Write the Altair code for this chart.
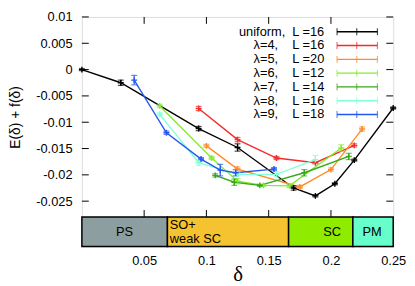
import altair as alt
import pandas as pd

NB = "\u00a0"

# ---------------- data ----------------
series = ["uniform", "λ=4", "λ=5", "λ=6", "λ=7", "λ=8", "λ=9"]
legend_labels = [
    "uniform," + NB * 2 + "L =16",
    "λ=4," + NB * 4 + "L =16",
    "λ=5," + NB * 4 + "L =20",
    "λ=6," + NB * 4 + "L =12",
    "λ=7," + NB * 4 + "L =14",
    "λ=8," + NB * 4 + "L =16",
    "λ=9," + NB * 4 + "L =18",
]
colors = ["#000000", "#f52a2a", "#ff8c26", "#84ec30", "#38a81a", "#84ffd6", "#2458f0"]

delta_uniform = [0.0, 0.03125, 0.09375, 0.125, 0.17, 0.1875, 0.203125, 0.21875, 0.25]
E_uniform = [0.0, -0.0025, -0.0112, -0.0148, -0.0225, -0.0240, -0.0217, -0.0172, -0.0073]
err_uniform = [0.0002, 0.0005, 0.0004, 0.0007, 0.0004, 0.0002, 0.0002, 0.0002, 0.0002]

delta_l4 = [0.09375, 0.125, 0.15625, 0.1875, 0.21875]
E_l4 = [-0.0074, -0.0133, -0.0168, -0.0177, -0.0144]
err_l4 = [0.0004, 0.0004, 0.0003, 0.0002, 0.0003]

delta_l5 = [0.1, 0.125, 0.175, 0.2, 0.225]
E_l5 = [-0.0145, -0.0189, -0.0223, -0.0190, -0.0113]
err_l5 = [0.0003, 0.0004, 0.0003, 0.0003, 0.0004]

delta_l6 = [0.0625, 0.1042, 0.125, 0.1458, 0.1667, 0.2083]
E_l6 = [-0.0069, -0.0168, -0.0212, -0.0220, -0.0221, -0.0149]
err_l6 = [0.0003, 0.0003, 0.0005, 0.0002, 0.0003, 0.0006]

delta_l7 = [0.1071, 0.1224, 0.1429, 0.1786, 0.2143]
E_l7 = [-0.0201, -0.0214, -0.0220, -0.0196, -0.0165]
err_l7 = [0.0003, 0.0006, 0.0002, 0.0006, 0.0006]

delta_l8 = [0.0625, 0.09375, 0.125, 0.15625, 0.1875]
E_l8 = [-0.0085, -0.0177, -0.0199, -0.0199, -0.0171]
err_l8 = [0.0003, 0.0005, 0.0003, 0.0005, 0.0008]

delta_l9 = [0.042, 0.0679, 0.0957, 0.1111, 0.1235, 0.1543]
E_l9 = [-0.0020, -0.0120, -0.0170, -0.0191, -0.0196, -0.0189]
err_l9 = [0.0009, 0.0003, 0.0003, 0.0011, 0.0006, 0.0003]

y_ticks = [0.01, 0.005, 0.0, -0.005, -0.01, -0.015, -0.02, -0.025]
x_ticks = [0.05, 0.1, 0.15, 0.2]
x_labels_lower = [0.05, 0.1, 0.15, 0.2, 0.25]

phase_names = ["PS", "SO+ weak SC", "SC", "PM"]
phase_start = [0.0, 0.0687, 0.166, 0.2176]
phase_end = [0.0687, 0.166, 0.2176, 0.25]
phase_colors = ["#8c9ea0", "#f5c330", "#8fec00", "#66ffcc"]
center_labels = ["PS", "SC", "PM"]
center_label_x = [0.0343, 0.2009, 0.2330]
so_lines = ["SO+", "weak SC"]
so_label_x = 0.0706

# ---------------- tables ----------------
all_delta = [delta_uniform, delta_l4, delta_l5, delta_l6, delta_l7, delta_l8, delta_l9]
all_E = [E_uniform, E_l4, E_l5, E_l6, E_l7, E_l8, E_l9]
all_err = [err_uniform, err_l4, err_l5, err_l6, err_l7, err_l8, err_l9]
rows = []
for s, ds, es, rs in zip(series, all_delta, all_E, all_err):
    for d, e, r in zip(ds, es, rs):
        rows.append({"series": s, "delta": d, "E": e, "lo": e - r, "hi": e + r})
df = pd.DataFrame(rows)

leg_df = pd.DataFrame({"row": list(range(len(series))), "series": series, "label": legend_labels})
yt_df = pd.DataFrame({"t": y_ticks})
xt_df = pd.DataFrame({"t": x_ticks})
ph_df = pd.DataFrame({"phase": phase_names, "start": phase_start, "end": phase_end})
lab_df = pd.DataFrame({"label": center_labels, "lx": center_label_x})
so_df = pd.DataFrame({"label": so_lines, "line": [0, 1], "lx": [so_label_x] * 2})

W, H1, H2 = 316, 203, 30
FONT = "Liberation Sans"

x_scale = alt.Scale(domain=[0, 0.25], nice=False, zero=False)
y_scale = alt.Scale(domain=[-0.028, 0.01], nice=False, zero=False)
color = alt.Color("series:N", scale=alt.Scale(domain=series, range=colors), legend=None)

y_axis = alt.Axis(values=y_ticks, format=".3~f", labelExpr="replace(datum.label, '\u2212', '-')",
                  ticks=False, domain=False, grid=False, labelPadding=10, labelFontSize=13,
                  labelFont=FONT, labelFlush=False, title="E(δ) + f(δ)", titleFont=FONT,
                  titleFontSize=14, titleFontWeight="normal", titleX=-60)

X = alt.X("delta:Q", scale=x_scale, axis=None)

base = alt.Chart(df)
lines = base.mark_line(strokeWidth=1.4).encode(
    x=X, y=alt.Y("E:Q", scale=y_scale, axis=y_axis), color=color, order=alt.Order("delta:Q"))
errs = base.mark_rule(strokeWidth=1.2).encode(
    x=X, y=alt.Y("lo:Q", scale=y_scale, axis=y_axis), y2="hi:Q", color=color)
cap_lo = base.mark_tick(orient="horizontal", size=6, thickness=1.2).encode(
    x=X, y=alt.Y("lo:Q", scale=y_scale, axis=y_axis), color=color)
cap_hi = base.mark_tick(orient="horizontal", size=6, thickness=1.2).encode(
    x=X, y=alt.Y("hi:Q", scale=y_scale, axis=y_axis), color=color)
pts = base.mark_point(shape="M-1,0H1M0,-1V1", size=36, filled=False, strokeWidth=1.4, opacity=1).encode(
    x=X, y=alt.Y("E:Q", scale=y_scale, axis=y_axis), color=color)

TL = 7
left_t = alt.Chart(yt_df).mark_rule(color="black", strokeWidth=1).encode(
    y=alt.Y("t:Q", scale=y_scale, axis=y_axis), x=alt.value(0), x2=alt.value(TL))
right_t = alt.Chart(yt_df).mark_rule(color="black", strokeWidth=1).encode(
    y=alt.Y("t:Q", scale=y_scale, axis=y_axis), x=alt.value(W - TL), x2=alt.value(W))
top_t = alt.Chart(xt_df).mark_rule(color="black", strokeWidth=1).encode(
    x=alt.X("t:Q", scale=x_scale, axis=None), y=alt.value(0), y2=alt.value(TL))
bot_t = alt.Chart(xt_df).mark_rule(color="black", strokeWidth=1).encode(
    x=alt.X("t:Q", scale=x_scale, axis=None), y=alt.value(H1 - TL), y2=alt.value(H1))

inner = alt.layer(left_t, right_t, top_t, bot_t, lines, errs, cap_lo, cap_hi, pts)

LY = alt.Y("row:O", scale=alt.Scale(type="point", range=[15, 99], padding=0), axis=None)
lbase = alt.Chart(leg_df)
leg_text = lbase.mark_text(align="right", baseline="middle", fontSize=13, font=FONT, color="black").encode(
    x=alt.value(246), y=LY, text="label:N")
leg_line = lbase.mark_rule(strokeWidth=1.4).encode(
    x=alt.value(259), x2=alt.value(300), y=LY, color=color)
leg_t1 = lbase.mark_tick(orient="vertical", size=7, thickness=1.2).encode(x=alt.value(259), y=LY, color=color)
leg_t2 = lbase.mark_tick(orient="vertical", size=7, thickness=1.2).encode(x=alt.value(279), y=LY, color=color)
leg_t3 = lbase.mark_tick(orient="vertical", size=7, thickness=1.2).encode(x=alt.value(300), y=LY, color=color)
legend = alt.layer(leg_line, leg_t1, leg_t2, leg_t3, leg_text)

upper = alt.layer(inner, legend).resolve_scale(y="independent").properties(width=W, height=H1)

x_axis_lower = alt.Axis(values=x_labels_lower, format=".2~f", ticks=False, domain=False, grid=False,
                        labelPadding=8, labelFontSize=13, labelFont=FONT, labelFlush=False,
                        title="δ", titleFont="Liberation Serif", titleFontSize=21,
                        titleFontWeight="normal", titlePadding=-4)
rects = alt.Chart(ph_df).mark_rect(stroke="black", strokeWidth=1.5).encode(
    x=alt.X("start:Q", scale=x_scale, axis=x_axis_lower), x2="end:Q",
    y=alt.value(0), y2=alt.value(H2),
    color=alt.Color("phase:N", scale=alt.Scale(domain=phase_names, range=phase_colors), legend=None))
lab_c = alt.Chart(lab_df).mark_text(
    align="center", baseline="middle", fontSize=13, font=FONT, color="black").encode(
    x=alt.X("lx:Q", scale=x_scale, axis=x_axis_lower), y=alt.value(H2 / 2), text="label:N")
so_top = alt.Chart(so_df).transform_filter(alt.datum.line == 0).mark_text(
    align="left", baseline="middle", fontSize=13, font=FONT, color="black", dy=-7).encode(
    x=alt.X("lx:Q", scale=x_scale, axis=x_axis_lower), y=alt.value(H2 / 2), text="label:N")
so_bot = alt.Chart(so_df).transform_filter(alt.datum.line == 1).mark_text(
    align="left", baseline="middle", fontSize=13, font=FONT, color="black", dy=7).encode(
    x=alt.X("lx:Q", scale=x_scale, axis=x_axis_lower), y=alt.value(H2 / 2), text="label:N")
lower = alt.layer(rects, lab_c, so_top, so_bot).properties(width=W, height=H2)

chart = alt.vconcat(upper, lower, spacing=0, bounds="flush").resolve_scale(color="independent").properties(
    padding={"left": 0, "top": 0, "right": 0, "bottom": 0}
).configure_view(stroke="black", strokeWidth=1.5).configure(background="white")

chart.save("out.html", embed_options={"renderer": "svg", "actions": False})
